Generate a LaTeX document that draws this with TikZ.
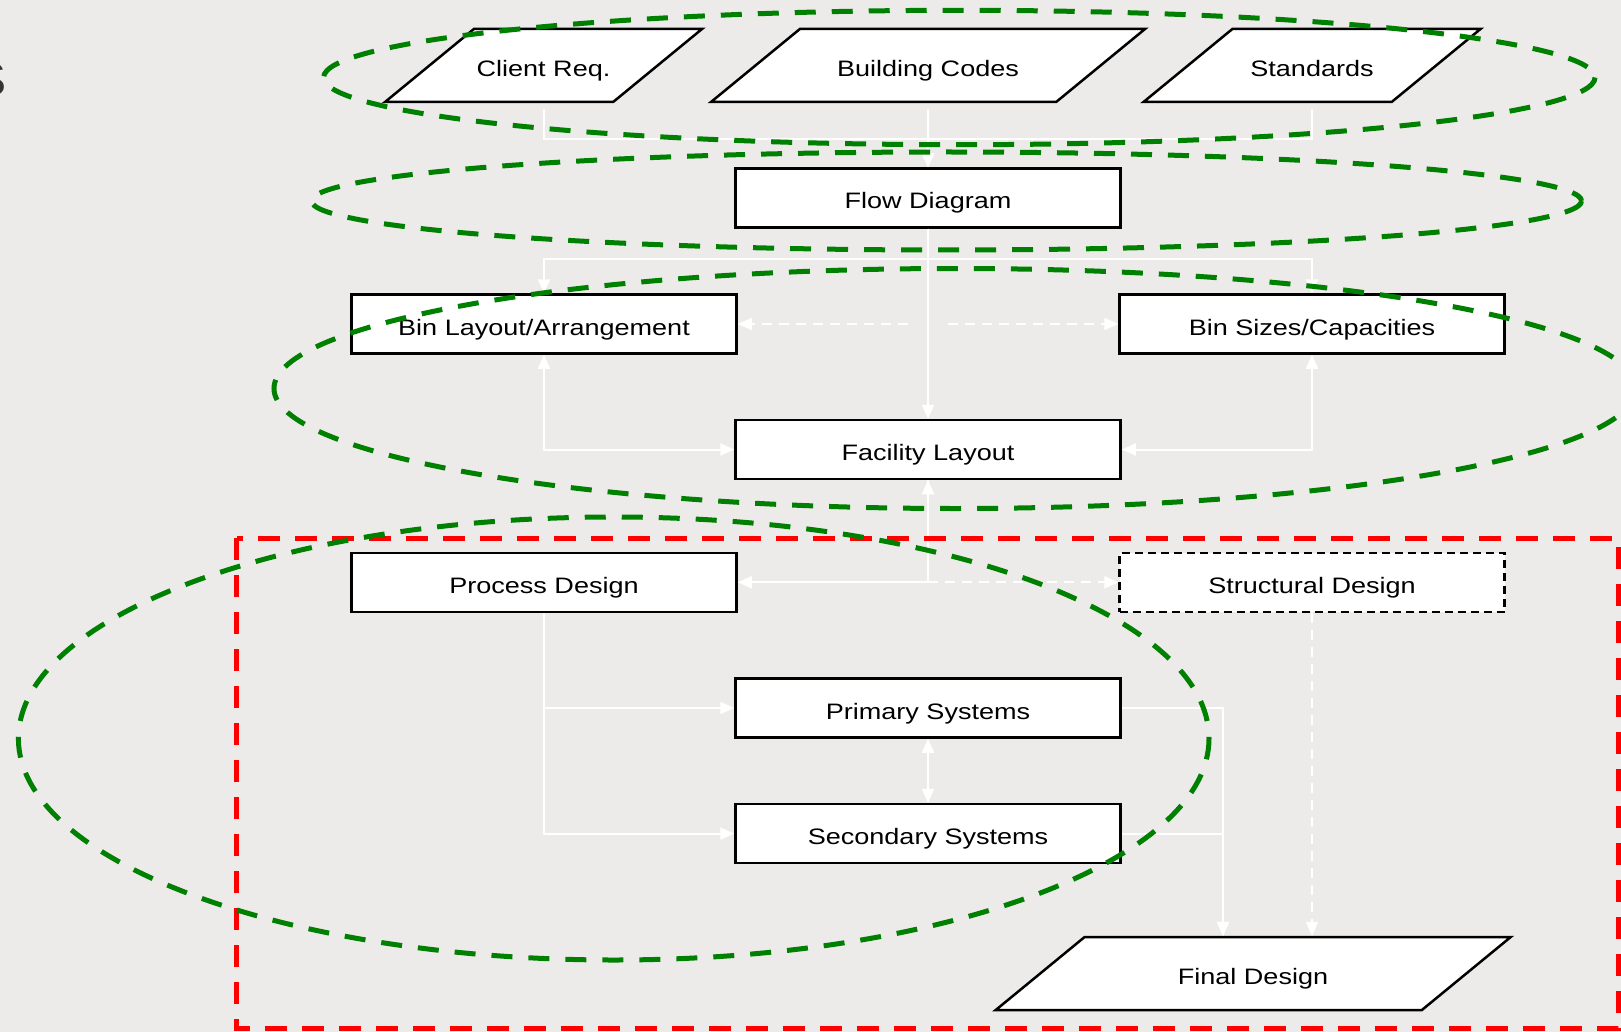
\documentclass[tikz,border=0pt]{standalone}
\usepackage{fontspec}
\setmainfont{Liberation Sans}[FakeStretch=1.21]
\usetikzlibrary{shapes.geometric,arrows.meta}
\definecolor{bggray}{RGB}{236,235,233}
\definecolor{ringgreen}{RGB}{0,128,0}
\definecolor{zonered}{RGB}{255,0,0}
\definecolor{titlegray}{RGB}{51,51,51}
\begin{document}
\begin{tikzpicture}[x=1pt,y=-1pt,>={Triangle[length=14pt,width=12pt]},
box/.style={draw=black,fill=white,line width=2.5pt,minimum width=385pt,minimum height=59pt,inner sep=0pt,text height=22pt,text depth=0pt,font=\fontsize{22.35}{26}\selectfont},
iobox/.style={box,trapezium,trapezium left angle=39.4,trapezium right angle=140.6,trapezium stretches body,inner ysep=25.5pt,minimum height=73pt},
wire/.style={draw=white,line width=2pt},
dwire/.style={wire,dash pattern=on 10pt off 7pt},
ring/.style={draw=ringgreen,line width=5pt,dash pattern=on 21pt off 16pt},
zone/.style={draw=zonered,line width=5.5pt,dash pattern=on 22pt off 15pt}]
\useasboundingbox[fill=bggray] (0,0) rectangle (1621,1032);
\node [anchor=base east,inner sep=0pt,text=titlegray,font=\fontsize{49}{55}\selectfont] (12) at (7,97) {S};
\node [iobox,minimum width=317pt] (0) at (543.5,65.5) {Client Req.};
\node [iobox,minimum width=434pt] (1) at (928,65.5) {Building Codes};
\node [iobox,minimum width=337pt] (2) at (1312,65.5) {Standards};
\node [box] (3) at (928,198) {Flow Diagram};
\node [box] (4) at (544,324) {Bin Layout/Arrangement};
\node [box] (5) at (1312,324) {Bin Sizes/Capacities};
\node [box] (6) at (928,449.5) {Facility Layout};
\node [box] (7) at (544,582.3) {Process Design};
\node [box,dash pattern=on 8pt off 5pt] (8) at (1312,582.3) {Structural Design};
\node [box] (9) at (928,708) {Primary Systems};
\node [box] (10) at (928,833.6) {Secondary Systems};
\node [iobox,minimum width=515pt] (11) at (1253,973.7) {Final Design};
\draw [wire,->] ([yshift=-6pt]0.south) -- ++(0,30) -| (3.north);
\draw [wire,->] ([yshift=-6pt]2.south) -- ++(0,30) -| (3.north);
\draw [wire,->] ([yshift=-6pt]1.south) -- (3.north);
\draw [wire,->] (3.south) -- (6.north);
\draw [wire,->] (3.south) -- ++(0,30) -| (4.north);
\draw [wire,->] (3.south) -- ++(0,30) -| (5.north);
\draw [dwire,->,shorten <=20pt] (3.south |- 4.east) -- (4.east);
\draw [dwire,->,shorten <=20pt] (3.south |- 5.west) -- (5.west);
\draw [wire,<->] (4.south) |- (6.west);
\draw [wire,<->] (5.south) |- (6.east);
\draw [dwire,->] (6.south) |- (8.west);
\draw [wire,<->] (6.south) |- (7.east);
\draw [wire,->] (7.south) |- (9.west);
\draw [wire,->] (7.south) |- (10.west);
\draw [wire,<->] (9.south) -- (10.north);
\draw [wire,->] (9.east) -| ([xshift=-30pt]11.north);
\draw [wire,->] (10.east) -| ([xshift=-30pt]11.north);
\draw [dwire,->] (8.south) -- (8.south |- 11.north);
\draw [zone] (236.7,538.3) rectangle (1618.3,1028.3);
\draw [ring] (959.3,77.5) ellipse [x radius=635.7,y radius=67.2];
\draw [ring] (946.5,201) ellipse [x radius=635,y radius=49];
\draw [ring] (955,388.5) ellipse [x radius=681,y radius=120];
\draw [ring] (613.7,738.5) ellipse [x radius=595.3,y radius=221.5];
\end{tikzpicture}
\end{document}
